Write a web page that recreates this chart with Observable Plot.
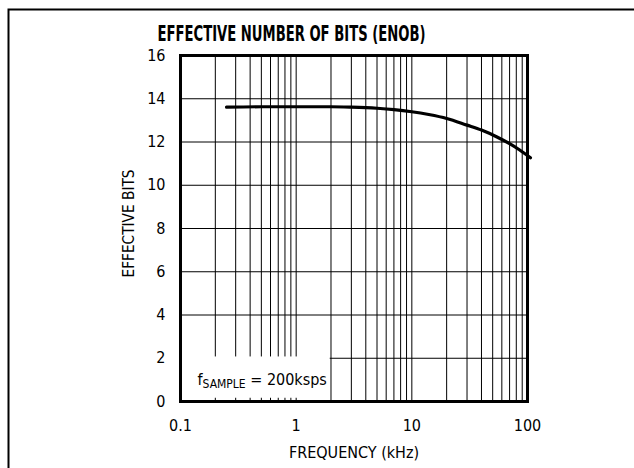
<!DOCTYPE html>
<html><head><meta charset="utf-8">
<script src="https://cdn.jsdelivr.net/npm/d3@7"></script>
<script src="https://cdn.jsdelivr.net/npm/@observablehq/plot@0.6"></script>
<style>
html,body{margin:0;padding:0;background:#fff;}
#chart{width:634px;height:468px;overflow:hidden;}
#chart svg, #chart svg text{font-family:'Liberation Sans Narrow','Arial Narrow','DejaVu Sans Condensed','DejaVu Sans',sans-serif;font-stretch:condensed;}
</style></head><body><div id="chart"></div>
<script>
// ---- data ----
const freqKHz  = [0.25, 0.5, 1, 2, 3, 5, 7, 10, 14, 20, 30, 40, 55, 70, 85, 106];
const enobBits = [13.61, 13.63, 13.63, 13.63, 13.61, 13.56, 13.50, 13.40, 13.27, 13.09, 12.78, 12.55, 12.22, 11.92, 11.64, 11.27];
const xTickValues = [0.1, 1, 10, 100];
const yTickValues = [0, 2, 4, 6, 8, 10, 12, 14, 16];
const xGridValues = [0.2,0.3,0.4,0.5,0.6,0.7,0.8,0.9,1,2,3,4,5,6,7,8,9,10,20,30,40,50,60,70,80,90];
const yGridValues = [2, 4, 6, 8, 10, 12, 14];
const titleText = "EFFECTIVE NUMBER OF BITS (ENOB)";
const xLabel = "FREQUENCY (kHz)";
const yLabel = "EFFECTIVE BITS";
const legendParts = ["f", "SAMPLE", " = 200ksps"];
const legendBox = [{x1: 0.1, x2: 1.97, y1: 0.15, y2: 2.06}];

const data = freqKHz.map((f, i) => ({f, b: enobBits[i]}));

const chart = Plot.plot({
  width: 634, height: 468,
  marginLeft: 180, marginRight: 107, marginTop: 55, marginBottom: 67,
  x: {type: "log", domain: [0.1, 100]},
  y: {domain: [0, 16]},
  style: {fontSize: "16px", color: "#000", background: "#fff"},
  marks: [
    Plot.ruleX(xGridValues, {stroke: "#000", strokeWidth: 1}),
    Plot.ruleY(yGridValues, {stroke: "#000", strokeWidth: 1}),
    Plot.rect(legendBox, {x1: "x1", x2: "x2", y1: "y1", y2: "y2", fill: "#fff"}),
    Plot.text([legendParts.join("")], {frameAnchor: "bottom-left", lineAnchor: "middle", dx: 17, dy: -22, textAnchor: "start", fontSize: 16}),
    Plot.line(data, {x: "f", y: "b", curve: "monotone-x", stroke: "#000", strokeWidth: 3.2}),
    Plot.frame({stroke: "#000", strokeWidth: 3}),
    Plot.axisX(xTickValues, {tickSize: 0, tickPadding: 18, tickFormat: d => String(d), label: null, fontSize: 16}),
    Plot.axisY(yTickValues, {tickSize: 0, tickPadding: 15, label: null, fontSize: 16}),
    Plot.text([xLabel], {frameAnchor: "bottom", lineAnchor: "middle", dy: 51, fontSize: 16}),
    Plot.text([yLabel], {frameAnchor: "left", textAnchor: "middle", lineAnchor: "middle", dx: -52, dy: -5, rotate: -90, fontSize: 16}),
    Plot.text([titleText], {frameAnchor: "top", lineAnchor: "middle", dx: -62.5, dy: -21.5, fontSize: 21, fontWeight: "bold"})
  ]
});
document.getElementById("chart").appendChild(chart);

const svg = d3.select(chart);
// title fit
svg.selectAll("text").filter(function(){ return this.textContent === titleText; })
  .attr("textLength", 268).attr("lengthAdjust", "spacingAndGlyphs");
// y label length as in the reference
svg.selectAll("text").filter(function(){ return this.textContent === yLabel; })
  .attr("textLength", 108).attr("lengthAdjust", "spacingAndGlyphs");
// legend with subscript
svg.selectAll("text").filter(function(){ return this.textContent === legendParts.join(""); })
  .each(function(){
    const t = d3.select(this);
    t.text(null);
    t.append("tspan").text(legendParts[0]);
    t.append("tspan").attr("font-size", 12).attr("dy", 3).text(legendParts[1]);
    t.append("tspan").attr("dy", -3).text(legendParts[2]);
  });
// outer panel border (left and top edges)
svg.append("path").attr("d", "M8.5,468V9.5H634").attr("fill", "none").attr("stroke", "#000").attr("stroke-width", 2);
</script></body></html>
